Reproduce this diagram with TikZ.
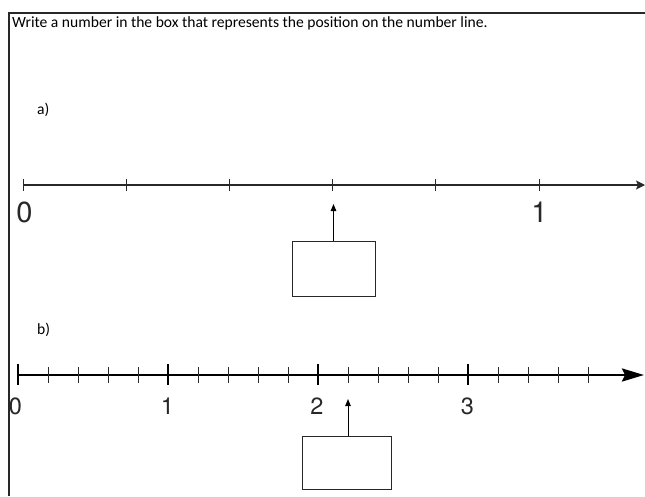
\documentclass[tikz,border=0pt]{standalone}
\usepackage{fontspec}
\setmainfont{Carlito}
\newfontfamily\digitfont{TeX Gyre Heros}
\usetikzlibrary{arrows.meta, positioning, calc}
\definecolor{ink}{RGB}{40, 40, 40}
\tikzset{
    task/.style={font=\fontsize{15.6}{18}\selectfont, inner sep=0pt},
    frameline/.style={line width=1.4pt, color=ink},
    linea/.style={line width=1.5pt, color=ink, -{Stealth[length=9pt, width=9pt, inset=2pt]}},
    lineb/.style={line width=2.6pt, color=black, -{Stealth[length=22pt, width=13pt, inset=3pt]}},
    tickthin/.style={line width=0.9pt, color=ink},
    tickbold/.style={line width=2.6pt, color=black},
    numa/.style={font=\fontsize{29}{30}\digitfont, inner sep=0pt, anchor=north, color=ink},
    numb/.style={font=\fontsize{23.5}{25}\digitfont, inner sep=0pt, anchor=north, color=ink},
    answer/.style={rectangle, draw=ink, line width=1pt, inner sep=0pt},
    pointer/.style={-{Triangle[length=7pt, width=5.5pt]}, line width=1pt, color=black}
}
\begin{document}
\begin{tikzpicture}[x=1pt, y=-1pt]
    \useasboundingbox (0,0) rectangle (645,496);

    % frame and question
    \coordinate (fbl) at (9,496);
    \coordinate (ftl) at (9,13);
    \coordinate (ftr) at (645,13);
    \draw [frameline] (fbl) -- (ftl) -- (ftr);
    \node (title) [task, anchor=base west] at (12,27) {Write a number in the box that represents the position on the number line.};

    % part a
    \node (parta) [task, anchor=base west] at (37,114) {a)};
    \coordinate (a0) at (23,185);
    \coordinate (aend) at (645,185);
    \draw [linea] (a0) -- (aend);
    \foreach \i in {0,...,5}
        \draw [tickthin] ($(a0)+(103.2*\i,-6)$) -- ++(0,12);
    \node (azero) [numa] at (24.5,202) {0};
    \node (aone)  [numa] at (539.5,202) {1};
    \node (boxa) [answer, minimum width=83pt, minimum height=55pt] at (333.5,268.5) {};
    \coordinate (pta) at (333.5,204);
    \draw [pointer] (boxa.north) -- (pta);

    % part b
    \node (partb) [task, anchor=base west] at (37,334) {b)};
    \coordinate (b0) at (18,375);
    \coordinate (bend) at (644,375);
    \draw [lineb] (b0) -- (bend);
    \foreach \i in {1,...,19}
        \draw [tickthin] ($(b0)+(30*\i,-8)$) -- ++(0,16);
    \foreach \i in {0,...,3}
        \draw [tickbold] ($(b0)+(150*\i,-11)$) -- ++(0,21);
    \node (bzero)  [numb] at (15.5,398) {0};
    \node (bone)   [numb] at (167.5,398) {1};
    \node (btwo)   [numb] at (317,398) {2};
    \node (bthree) [numb] at (467.5,398) {3};
    \node (boxb) [answer, minimum width=89pt, minimum height=53pt] at (346.5,462.5) {};
    \coordinate (ptb) at (348,399);
    \draw [pointer] (boxb.north -| ptb) -- (ptb);

\end{tikzpicture}
\end{document}
